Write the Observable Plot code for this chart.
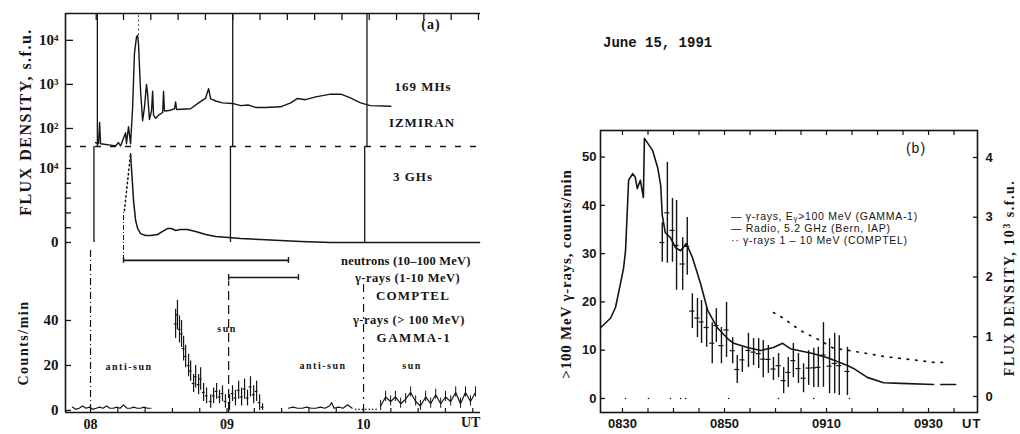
<!DOCTYPE html>
<html><head><meta charset="utf-8">
<script src="https://cdn.jsdelivr.net/npm/d3@7"></script>
<script src="https://cdn.jsdelivr.net/npm/@observablehq/plot@0.6"></script>
<style>
html,body{margin:0;padding:0;background:#fff;}
#root{position:relative;width:1020px;height:434px;overflow:hidden;background:#fff;}
#panelA{position:absolute;left:0;top:0;width:481px;height:434px;overflow:hidden;}
sub{font-size:0.75em;vertical-align:-0.2em;line-height:0;}
</style></head><body><div id="root"><div id="panelA"></div></div>
<script>
// ---------------- DATA ----------------
// Panel (a): time in minutes after 08:00 UT
// 169 MHz, IZMIRAN (s.f.u., log scale)
const mhzT = [2.2,3.5,4.0,4.4,8.8,11,12.3,13.2,15.4,15.8,16.7,17.6,18.5,19.3,20.2,20.7,21.1,22,22.9,23.7,24.6,25.1,25.9,26.8,27.3,27.7,28.6,29.9,31.7,32.1,32.5,35.2,36.9,37.4,37.8,44,47.5,50.5,51.9,52.8,55,58,62.4,66,69.5,72.5,77,83.5,88,91,94.5,99,105.5,110,114,118.7,123,132];
const mhzV = [48,45,137,45,42,40,48,40,80,45,110,45,300,5000,12000,13000,8000,700,150,300,1000,600,160,250,700,200,170,200,230,700,250,260,280,400,270,280,380,480,800,470,420,380,370,330,340,300,300,310,380,480,450,520,600,600,500,380,330,320];
// 3 GHz (s.f.u., linear)
const ghzRiseT = [14.9, 17.6];
const ghzRiseV = [4300, 12000];
const ghzT = [17.6,18.9,19.8,20.7,22.0,24.2,26.4,29.5,31.7,33.8,35.6,37.4,39.6,42.6,46.2,50.6,55,60.7,66,74.7,83.5,92.3,105.5,171];
const ghzV = [12000,5700,3000,1900,1200,950,950,1080,1490,1890,1890,1620,1760,1760,1490,1080,810,680,540,410,270,140,0,0];
// observation intervals
const intervalNames = ["neutrons (10–100 MeV)", "γ-rays (1-10 MeV)"];
const intervalStart = [14.5, 60.7];
const intervalEnd = [87, 91.4];
// GAMMA-1 counts/min
const anti1T = [-8,-6.5,-5,-3.5,-2,-0.5,1,2.5,4,5.5,7,8.5,10,11.5,13,14.5,16,17.5,19,20.5,22,23.5,25,26.5];
const anti1V = [1.5,0.5,1,2,1,1.5,0.5,1,1.5,1,2,1,1,1.5,1,2.5,1,1,1.5,1,1,1.5,1,1];
const sun1T = [37.4,38.2,39.1,40,40.9,41.8,43.1,44,45.3,46.2,47.5,48.4,49.7,51,52.8,54.1,55.4,56.7,58,59.3,61.1,62.4,63.7,65.1,66.4,67.7,69,70.3,71.7,73,74.3,75.6];
const sun1Lo = [32,36,30,28,22,19,15,13,8,10,7,9,4,3,1,3,5,3,4,1,0,4,2,5,2,5,2,6,3,4,0,0];
const sun1Hi = [45,49,42,40,33,29,25,22,16,20,16,19,12,10,7,10,12,9,11,7,7,11,9,13,10,14,9,15,11,13,7,3];
const anti2T = [87,89,91,93,95,97,99,101,103,105,106,107,109,111,113,115];
const anti2V = [1,1.5,1,1,1.5,1,1,1.5,1,2,3.5,1,1.5,1,2.5,1];
const gapT = [116.5,118,119.5,121,122.5,124,125.5];
const gapV = [0.5,0.5,0.5,0.5,0.5,0.5,0.5];
const sun2T = [127.5,129.7,131.9,134,136.3,138.5,140.7,142.9,145,147.3,149.5,151.7,153.9,156,158.3,160.5,162.6,164.8,167,169.2];
const sun2V = [2,6,4,6,3,5,8,4,2,6,3,7,3,6,4,8,3,8,4,8];
const hourTicks = [0, 60, 120];
const hourLabels = ["08", "09", "10"];

// Panel (b): time in minutes after 08:30 UT
const gamT = [7.8,8.8,9.8,10.6,11.8,12.7,13.7,14.7,15.5,16.5,17.6,18.4,19.4,20.4,21.6,22.5,23.5,24.7,25.7,26.7,27.6,28.6,29.6,30.6,31.6,32.5,33.5,34.5,35.5,36.5,37.5,38.4,39.4,40.6,41.6,42.5,44.1];
const gamLo = [28.2,28,28.2,22.4,22.4,25.5,14.5,12.6,11.4,10.6,7.2,11.6,7.2,8.5,7.2,3.1,5.4,6.4,6.8,6.2,4.3,5.2,3.7,4.3,1.0,2.3,4.3,3.1,1.2,2.7,2.3,2.3,2.3,1.0,1.0,0.6,0.6];
const gamHi = [36.4,48.9,41.4,41.0,33.3,37.5,21.7,20.7,20.3,18.8,15.7,18.6,14.7,19.9,12.6,8.9,10.6,13.5,12.4,12.4,12.0,11.0,8.5,9.3,6.4,8.5,11.4,9.3,7.2,9.9,10.4,10.6,15.7,12.4,13.5,13.0,10.6];
// radio 5.2 GHz, 10^3 s.f.u.
const radioT = [-4.3,-2.35,-1.37,-0.4,0.2,0.6,1.2,2.0,2.5,2.9,3.5,4.1,4.3,4.7,5.9,6.9,7.5,7.8,8.4,9.4,10.4,11.4,12.5,13.7,15.3,16.7,18.6,20.6,21.8,24.5,27.1,29.6,31.4,32.9,37.3,40.2,44.1,45.3,48,51.2,54.5,61];
const radioV = [1.15,1.31,1.49,1.89,2.14,2.44,3.62,3.73,3.67,3.48,3.62,3.33,4.32,4.27,4.12,3.83,3.53,3.03,2.74,2.66,2.49,2.44,2.56,2.33,1.89,1.44,1.15,0.97,0.89,0.82,0.77,0.82,0.89,0.80,0.72,0.65,0.52,0.47,0.32,0.23,0.22,0.20];
const radioTailT = [62.4, 65.3];
const radioTailV = [0.20, 0.20];
// COMPTEL 1-10 MeV
const comptelT = [29.6,31.6,33.5,35.5,37.3,38.8,41.4,44.7,48,51.2,54.5,57.8,61,63];
const comptelV = [17.8,16.6,15.1,13.7,12.8,12.0,10.4,9.9,9.3,8.7,8.3,7.9,7.5,7.5];
const comptelZeroT = [0.6,5.1,9.4,11.4,12.4,20.8,30.6,37.5,44.5];
const bTicks = [0, 20, 40, 60];
const bLabels = ["0830", "0850", "0910", "0930"];

// ---------------- helpers ----------------
const SERIF = "'Liberation Serif','DejaVu Serif',serif";
const SANS = "'Liberation Sans','DejaVu Sans',sans-serif";
const MONO = "'Liberation Mono','DejaVu Sans Mono',monospace";
const INK = "#151515";
const root = document.getElementById("root");
const panelA = document.getElementById("panelA");
const zip = (ks, ...arrs) => arrs[0].map((_, i) => Object.fromEntries(ks.map((k, j) => [k, arrs[j][i]])));
const sty = (family, size) => ({background: "none", overflow: "visible", maxWidth: "none", fontFamily: family, fontSize: size + "px", fontWeight: "bold", color: INK});
function put(parent, svg, left, top) {
  svg.style.position = "absolute"; svg.style.left = left + "px"; svg.style.top = top + "px";
  parent.appendChild(svg);
}
function label(text, x, y, o = {}) {
  const d = document.createElement("div");
  d.innerHTML = text;
  const s = d.style;
  s.position = "absolute"; s.left = x + "px"; s.top = y + "px";
  s.whiteSpace = "nowrap"; s.lineHeight = "1";
  s.fontFamily = o.family || SERIF; s.fontSize = (o.size || 13) + "px";
  s.fontWeight = o.weight || "bold"; s.letterSpacing = (o.spacing || 0) + "px";
  s.color = INK;
  const tx = o.anchor === "start" ? "0" : o.anchor === "end" ? "-100%" : "-50%";
  s.transform = `translate(${tx},-50%)` + (o.rotate ? ` rotate(${o.rotate}deg)` : "");
  (o.parent || root).appendChild(d);
}
const blank = () => "";

// ---------------- panel (a) ----------------
const AX = [-11, 171.4];
const geomA = {width: 490, marginLeft: 65, marginRight: 10};
const mhz = zip(["t", "v"], mhzT, mhzV);
const pow = {100: "10²", 1000: "10³", 10000: "10⁴"};

put(panelA, Plot.plot({
  ...geomA, height: 146, marginTop: 13, marginBottom: 0,
  x: {domain: AX},
  y: {type: "log", domain: [39, 40600]},
  style: sty(SERIF, 15),
  marks: [
    Plot.ruleY([40600], {stroke: INK, strokeWidth: 1.6}),
    Plot.ruleX([-11], {stroke: INK, strokeWidth: 1.6}),
    Plot.axisY({ticks: [100, 1000, 10000], tickSize: 0, tickPadding: 7, tickFormat: d => pow[d], label: null}),
    Plot.axisY({ticks: [100, 1000, 10000], tickSize: 8, dx: 8, tickFormat: blank, label: null, strokeWidth: 1.3}),
    Plot.axisX({anchor: "top", ticks: d3.range(2.5, 171, 12), tickSize: 6, dy: 6, tickFormat: blank, label: null, strokeWidth: 1.3}),
    Plot.ruleY([39], {stroke: INK, strokeWidth: 1.3, strokeDasharray: "6,9"}),
    Plot.ruleX([3, 62.5, 121.5], {stroke: INK, strokeWidth: 1.3}),
    Plot.ruleX([21.1], {y1: 13000, y2: 40600, stroke: INK, strokeDasharray: "1.5,3"}),
    Plot.line(mhz, {x: "t", y: "v", stroke: INK, strokeWidth: 1.4})
  ]
}), 0, 0);

put(panelA, Plot.plot({
  ...geomA, height: 110, marginTop: 6, marginBottom: 0,
  x: {domain: AX, axis: null},
  y: {domain: [-1081, 12973]},
  style: sty(SERIF, 15),
  marks: [
    Plot.ruleX([-11], {stroke: INK, strokeWidth: 1.6}),
    Plot.axisY({ticks: [0, 10000], tickSize: 0, tickPadding: 7, tickFormat: d => d ? "10⁴" : "0", label: null}),
    Plot.axisY({ticks: [0, 2000, 4000, 6000, 8000, 10000], tickSize: 6, dx: 6, tickFormat: blank, label: null, strokeWidth: 1.3}),
    Plot.ruleX([1.5, 61.5, 120.5], {y1: 0, y2: 12973, stroke: INK, strokeWidth: 1.3}),
    Plot.ruleX([14.5], {y1: -1081, y2: 4300, stroke: INK, strokeDasharray: "5,2,1,2"}),
    Plot.line(zip(["t", "v"], ghzRiseT, ghzRiseV), {x: "t", y: "v", stroke: INK, strokeWidth: 1.5, strokeDasharray: "1.5,3"}),
    Plot.line(zip(["t", "v"], ghzT, ghzV), {x: "t", y: "v", stroke: INK, strokeWidth: 1.5})
  ]
}), 0, 140);

const intervals = zip(["name", "start", "end"], intervalNames, intervalStart, intervalEnd);
const intervalRow = [66.7, 59.1];
const capData = intervals.flatMap((d, i) => [{t: d.start, y: intervalRow[i]}, {t: d.end, y: intervalRow[i]}]);
const sun1 = zip(["t", "lo", "hi"], sun1T, sun1Lo, sun1Hi);
const sun2 = zip(["t", "v"], sun2T, sun2V);

put(panelA, Plot.plot({
  ...geomA, height: 184, marginTop: 0, marginBottom: 22,
  x: {domain: AX},
  y: {domain: [-0.9, 71.1]},
  style: sty(SERIF, 15),
  marks: [
    Plot.ruleX([-11], {stroke: INK, strokeWidth: 1.6}),
    Plot.ruleY([-0.9], {stroke: INK, strokeWidth: 1.6}),
    Plot.axisY({ticks: [0, 20, 40], tickSize: 0, tickPadding: 7, label: null}),
    Plot.axisY({ticks: [0, 20, 40], tickSize: 6, dx: 6, tickFormat: blank, label: null, strokeWidth: 1.3}),
    Plot.axisX({ticks: hourTicks, tickSize: 0, tickPadding: 7, fontSize: 14, tickFormat: d => hourLabels[hourTicks.indexOf(d)], label: null}),
    Plot.axisX({ticks: d3.range(0, 171, 12), tickSize: 4, dy: -4, tickFormat: blank, label: null, strokeWidth: 1.2}),
    Plot.ruleX([0], {stroke: INK, strokeWidth: 1.2, strokeDasharray: "7,3,1,3"}),
    Plot.ruleX([14.5], {y1: 66.7, y2: 71.1, stroke: INK, strokeDasharray: "5,2,1,2"}),
    Plot.ruleX([60.7], {y1: -0.9, y2: 57.5, stroke: INK, strokeWidth: 1.2, strokeDasharray: "9,5"}),
    Plot.ruleX([120], {y1: -0.9, y2: 56, stroke: INK, strokeWidth: 1.2, strokeDasharray: "8,5,2,5"}),
    Plot.ruleY(intervals, {y: (d, i) => intervalRow[i], x1: "start", x2: "end", stroke: INK, strokeWidth: 1.6}),
    Plot.ruleX(capData, {x: "t", y1: d => d.y - 1.3, y2: d => d.y + 1.3, stroke: INK, strokeWidth: 1.4}),
    Plot.line(zip(["t", "v"], anti1T, anti1V), {x: "t", y: "v", stroke: INK, strokeWidth: 1.2}),
    Plot.line(zip(["t", "v"], anti2T, anti2V), {x: "t", y: "v", stroke: INK, strokeWidth: 1.2}),
    Plot.dot(zip(["t", "v"], gapT, gapV), {x: "t", y: "v", r: 0.8, fill: INK, stroke: null}),
    Plot.ruleX(sun1, {x: "t", y1: "lo", y2: "hi", stroke: INK, strokeWidth: 1.2}),
    Plot.ruleY(sun1, {y: d => (d.lo + d.hi) / 2, x1: d => d.t - 0.6, x2: d => d.t + 0.6, stroke: INK, strokeWidth: 1.2}),
    Plot.line(sun2, {x: "t", y: "v", stroke: INK, strokeWidth: 1.2}),
    Plot.ruleX(sun2, {x: "t", y1: d => d.v - 2, y2: d => d.v + 2.5, stroke: INK, strokeWidth: 1})
  ]
}), 0, 250);

// panel (a) text
const A = {parent: panelA};
label("FLUX DENSITY, s.f.u.", 26, 122, {...A, size: 16, spacing: 1.5, rotate: -90});
label("Counts/min", 24, 343, {...A, size: 14, spacing: 1.5, rotate: -90});
label("(a)", 431, 25, {...A, size: 14, spacing: 1});
label("169 MHs", 423, 86, {...A, size: 13, spacing: 1});
label("IZMIRAN", 422, 122, {...A, size: 13, spacing: 1});
label("3 GHs", 393, 176, {...A, size: 13, spacing: 1, anchor: "start"});
label(intervalNames[0], 341, 261, {...A, size: 12.5, spacing: 0.2, anchor: "start"});
label(intervalNames[1], 355, 278, {...A, size: 12.5, spacing: 0.5, anchor: "start"});
label("COMPTEL", 413, 295, {...A, size: 13, spacing: 1.2});
label("γ-rays (&gt; 100 MeV)", 353, 320, {...A, size: 12.5, spacing: 0.5, anchor: "start"});
label("GAMMA-1", 414, 337, {...A, size: 13, spacing: 1.5});
label("anti-sun", 129, 367, {...A, size: 10, spacing: 1.5});
label("sun", 227, 329, {...A, size: 10, spacing: 1.5});
label("anti-sun", 323, 366, {...A, size: 10, spacing: 1.5});
label("sun", 412, 366, {...A, size: 10, spacing: 1.5});
label("UT", 461, 423, {...A, size: 14, anchor: "start"});

// ---------------- panel (b) ----------------
const BX = [-4.31, 69.6];
const geomB = {width: 480, height: 314, marginLeft: 60, marginRight: 43, marginTop: 10, marginBottom: 22};
const gam = zip(["t", "lo", "hi"], gamT, gamLo, gamHi);
const minor5 = d3.range(0, 70, 5);

put(root, Plot.plot({
  ...geomB,
  x: {domain: BX},
  y: {domain: [-2.9, 55.5]},
  style: sty(SANS, 13),
  marks: [
    Plot.frame({stroke: INK, strokeWidth: 1.6}),
    Plot.axisY({ticks: [0, 10, 20, 30, 40, 50], tickSize: 0, tickPadding: 4, label: null}),
    Plot.axisY({ticks: [0, 10, 20, 30, 40, 50], tickSize: 5, dx: 5, tickFormat: blank, label: null, strokeWidth: 1.3}),
    Plot.axisX({ticks: bTicks, tickSize: 0, tickPadding: 6, tickFormat: d => bLabels[bTicks.indexOf(d)], label: null}),
    Plot.axisX({ticks: minor5, tickSize: 4, dy: -4, tickFormat: blank, label: null, strokeWidth: 1.2}),
    Plot.axisX({anchor: "top", ticks: minor5, tickSize: 4, dy: 4, tickFormat: blank, label: null, strokeWidth: 1.2}),
    Plot.line(zip(["t", "v"], comptelT, comptelV), {x: "t", y: "v", stroke: INK, strokeWidth: 1.7, strokeDasharray: "1.5,7", strokeLinecap: "round"}),
    Plot.dot(comptelZeroT, {x: d => d, y: 0, r: 0.8, fill: INK, stroke: null}),
    Plot.ruleX(gam, {x: "t", y1: "lo", y2: "hi", stroke: INK, strokeWidth: 1.4}),
    Plot.ruleY(gam, {y: d => (d.lo + d.hi) / 2, x1: d => d.t - 0.5, x2: d => d.t + 0.5, stroke: INK, strokeWidth: 1.2})
  ]
}), 540, 120);

put(root, Plot.plot({
  ...geomB,
  x: {domain: BX, axis: null},
  y: {domain: [-0.268, 4.452]},
  style: sty(SANS, 13),
  marks: [
    Plot.axisY({anchor: "right", ticks: [0, 1, 2, 3, 4], tickSize: 0, tickPadding: 8, tickFormat: d => String(d), label: null}),
    Plot.axisY({anchor: "right", ticks: [0, 1, 2, 3, 4], tickSize: 5, dx: -5, tickFormat: blank, label: null, strokeWidth: 1.3}),
    Plot.line(zip(["t", "v"], radioT, radioV), {x: "t", y: "v", stroke: INK, strokeWidth: 1.6}),
    Plot.line(zip(["t", "v"], radioTailT, radioTailV), {x: "t", y: "v", stroke: INK, strokeWidth: 1.6})
  ]
}), 540, 120);

// panel (b) text
label("June 15, 1991", 603, 43, {family: MONO, size: 14, anchor: "start"});
label("(b)", 916, 148, {family: SANS, size: 14, weight: "normal", spacing: 1});
label("— γ-rays, E<sub>γ</sub>&gt;100 MeV (GAMMA-1)", 731, 216, {family: SANS, size: 10.5, weight: "normal", spacing: 0.7, anchor: "start"});
label("— Radio, 5.2 GHz (Bern, IAP)", 731, 228, {family: SANS, size: 10.5, weight: "normal", spacing: 0.7, anchor: "start"});
label("·· γ-rays 1 – 10 MeV (COMPTEL)", 731, 240, {family: SANS, size: 10.5, weight: "normal", spacing: 0.7, anchor: "start"});
label("&gt;100 MeV γ-rays, counts/min", 566, 274, {size: 15, spacing: 0.8, rotate: -90});
label("FLUX DENSITY, 10<sup style='font-size:0.7em;vertical-align:0.4em;line-height:0'>3</sup> s.f.u.", 1010, 278, {size: 14, spacing: 1.5, rotate: -90});
label("UT", 962, 423, {family: SANS, size: 13, anchor: "start", spacing: 1});
</script></body></html>
